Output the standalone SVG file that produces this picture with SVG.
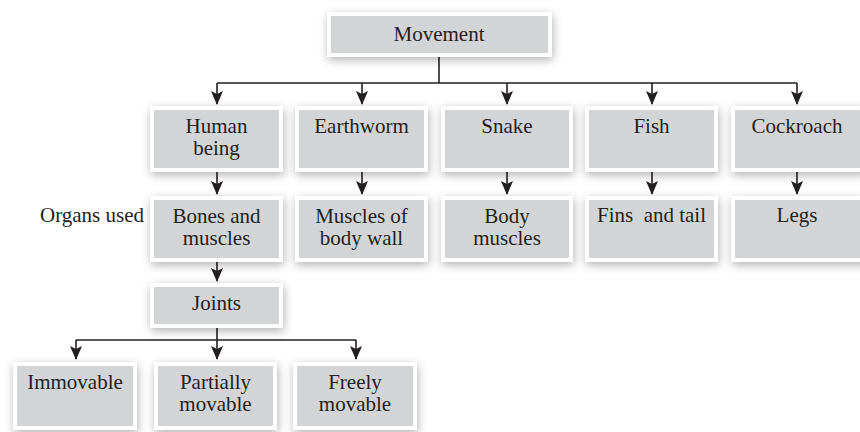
<svg xmlns="http://www.w3.org/2000/svg" width="860" height="432" viewBox="0 0 860 432">
  <defs>
    <filter id="soft" x="-25%" y="-40%" width="150%" height="190%">
      <feDropShadow dx="1" dy="3" stdDeviation="5" flood-color="#000" flood-opacity="0.3"/>
    </filter>
    <marker id="head" markerUnits="userSpaceOnUse" viewBox="-15 -7 16 14" markerWidth="16" markerHeight="14" refX="-1" refY="0" orient="auto">
      <path d="M0,0 L-14,-6 L-11,0 L-14,6 Z" fill="#231f20"/>
    </marker>
  </defs>
  <style>
    .box { fill: #d3d4d6; stroke: #ffffff; stroke-width: 4; filter: url(#soft); }
    .lbl { font-family: "Liberation Serif", "Times New Roman", serif; font-size: 21px; fill: #231f20; text-anchor: middle; }
    .wire { fill: none; stroke: #231f20; stroke-width: 1.6; }
    .arrow { fill: none; stroke: #231f20; stroke-width: 1.6; marker-end: url(#head); }
  </style>

  <rect width="860" height="432" fill="#ffffff"/>

  <!-- connectors -->
  <g id="connectors">
    <path class="wire" d="M439,57 V83 M217,83 H797"/>
    <path class="arrow" d="M217,83 V104"/>
    <path class="arrow" d="M362,83 V104"/>
    <path class="arrow" d="M507,83 V104"/>
    <path class="arrow" d="M652,83 V104"/>
    <path class="arrow" d="M797,83 V104"/>

    <path class="arrow" d="M217,172 V194"/>
    <path class="arrow" d="M362,172 V194"/>
    <path class="arrow" d="M507,172 V194"/>
    <path class="arrow" d="M652,172 V194"/>
    <path class="arrow" d="M797,172 V194"/>

    <path class="arrow" d="M217,262 V281"/>

    <path class="wire" d="M76,340 H356"/>
    <path class="arrow" d="M217,328 V359"/>
    <path class="arrow" d="M76,340 V359"/>
    <path class="arrow" d="M356,340 V359"/>
  </g>

  <!-- root -->
  <g id="movement">
    <rect class="box" x="329" y="14" width="221" height="41"/>
    <text class="lbl" x="439" y="41">Movement</text>
  </g>

  <!-- animals -->
  <g id="human">
    <rect class="box" x="152" y="108" width="129" height="62"/>
    <text class="lbl" x="216.5" y="133">Human<tspan x="216.5" dy="22">being</tspan></text>
  </g>
  <g id="earthworm">
    <rect class="box" x="297" y="108" width="129" height="62"/>
    <text class="lbl" x="361.5" y="133">Earthworm</text>
  </g>
  <g id="snake">
    <rect class="box" x="443" y="108" width="128" height="62"/>
    <text class="lbl" x="507" y="133">Snake</text>
  </g>
  <g id="fish">
    <rect class="box" x="587" y="108" width="129" height="62"/>
    <text class="lbl" x="651.5" y="133">Fish</text>
  </g>
  <g id="cockroach">
    <rect class="box" x="733" y="108" width="131" height="62"/>
    <text class="lbl" x="797" y="133">Cockroach</text>
  </g>

  <!-- organs used -->
  <g id="organs-label">
    <text class="lbl" x="144" y="222" style="text-anchor:end">Organs used</text>
  </g>
  <g id="bones">
    <rect class="box" x="152" y="198" width="129" height="62"/>
    <text class="lbl" x="216.5" y="222.5">Bones and<tspan x="216.5" dy="22">muscles</tspan></text>
  </g>
  <g id="body-wall">
    <rect class="box" x="297" y="198" width="129" height="62"/>
    <text class="lbl" x="361.5" y="222.5">Muscles of<tspan x="361.5" dy="22">body wall</tspan></text>
  </g>
  <g id="body-muscles">
    <rect class="box" x="443" y="198" width="128" height="62"/>
    <text class="lbl" x="507" y="222.5">Body<tspan x="507" dy="22">muscles</tspan></text>
  </g>
  <g id="fins">
    <rect class="box" x="587" y="198" width="129" height="62"/>
    <text class="lbl" x="651.5" y="222" xml:space="preserve">Fins  and tail</text>
  </g>
  <g id="legs">
    <rect class="box" x="733" y="198" width="131" height="62"/>
    <text class="lbl" x="797" y="222">Legs</text>
  </g>

  <!-- joints -->
  <g id="joints">
    <rect class="box" x="152" y="285" width="129" height="41"/>
    <text class="lbl" x="216.5" y="310">Joints</text>
  </g>
  <g id="immovable">
    <rect class="box" x="15" y="364" width="120" height="64"/>
    <text class="lbl" x="75" y="389">Immovable</text>
  </g>
  <g id="partially">
    <rect class="box" x="156" y="364" width="119" height="64"/>
    <text class="lbl" x="215.5" y="389">Partially<tspan x="215.5" dy="22">movable</tspan></text>
  </g>
  <g id="freely">
    <rect class="box" x="295" y="364" width="120" height="64"/>
    <text class="lbl" x="355" y="389">Freely<tspan x="355" dy="22">movable</tspan></text>
  </g>
</svg>
